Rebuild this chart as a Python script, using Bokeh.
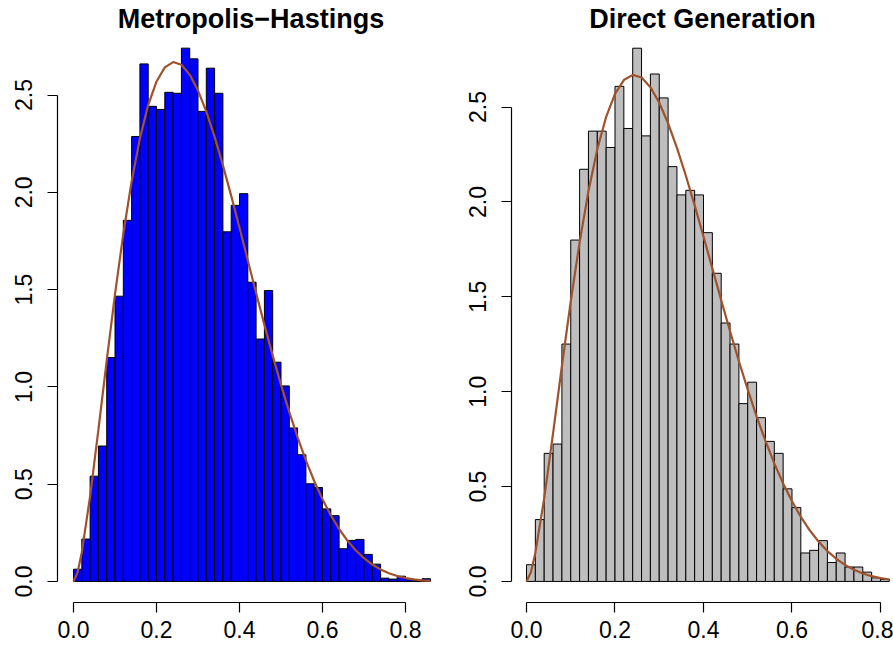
from bokeh.plotting import figure
from bokeh.layouts import row
from bokeh.models import ColumnDataSource, FixedTicker, PrintfTickFormatter
from bokeh.embed import file_html
from bokeh.resources import INLINE

# ---------------- data ----------------
bin_width = 0.02

mh_bin_left = [0.00, 0.02, 0.04, 0.06, 0.08, 0.10, 0.12, 0.14, 0.16, 0.18,
               0.20, 0.22, 0.24, 0.26, 0.28, 0.30, 0.32, 0.34, 0.36, 0.38,
               0.40, 0.42, 0.44, 0.46, 0.48, 0.50, 0.52, 0.54, 0.56, 0.58,
               0.60, 0.62, 0.64, 0.66, 0.68, 0.70, 0.72, 0.74, 0.76, 0.78,
               0.80, 0.82, 0.84]
mh_density = [0.063, 0.218, 0.541, 0.696, 1.151, 1.466, 1.856, 2.287, 2.660, 2.442,
              2.426, 2.514, 2.509, 2.741, 2.686, 2.416, 2.638, 2.509, 1.797, 1.933,
              1.993, 1.538, 1.246, 1.495, 1.127, 1.005, 0.789, 0.651, 0.502, 0.483,
              0.373, 0.338, 0.168, 0.211, 0.216, 0.139, 0.089, 0.017, 0.012, 0.027,
              0.009, 0.005, 0.014]

direct_bin_left = [0.00, 0.02, 0.04, 0.06, 0.08, 0.10, 0.12, 0.14, 0.16, 0.18,
                   0.20, 0.22, 0.24, 0.26, 0.28, 0.30, 0.32, 0.34, 0.36, 0.38,
                   0.40, 0.42, 0.44, 0.46, 0.48, 0.50, 0.52, 0.54, 0.56, 0.58,
                   0.60, 0.62, 0.64, 0.66, 0.68, 0.70, 0.72, 0.74, 0.76, 0.78,
                   0.80]
direct_density = [0.088, 0.326, 0.675, 0.724, 1.251, 1.799, 2.172, 2.373, 2.373, 2.287,
                  2.609, 2.387, 2.810, 2.348, 2.674, 2.548, 2.186, 2.037, 2.061, 2.037,
                  1.838, 1.624, 1.362, 1.251, 0.937, 1.050, 0.863, 0.738, 0.675, 0.488,
                  0.389, 0.150, 0.164, 0.215, 0.100, 0.150, 0.076, 0.076, 0.049, 0.019,
                  0.011]

# target density curve (Beta(2.7, 6.3)) values
curve_x = [0.00, 0.01, 0.02, 0.04, 0.06, 0.08, 0.10, 0.12, 0.14, 0.16, 0.18,
           0.20, 0.22, 0.24, 0.26, 0.28, 0.30, 0.32, 0.34, 0.36, 0.38,
           0.40, 0.42, 0.44, 0.46, 0.48, 0.50, 0.52, 0.54, 0.56, 0.58,
           0.60, 0.62, 0.64, 0.66, 0.68, 0.70, 0.72, 0.74, 0.76, 0.78,
           0.80, 0.82, 0.84, 0.86]
curve_y = [0.0, 0.0488, 0.1503, 0.4378, 0.7802, 1.1353, 1.4766, 1.7870, 2.0559, 2.2774, 2.4487,
           2.5697, 2.6423, 2.6695, 2.6555, 2.6049, 2.5228, 2.4144, 2.2848, 2.1391, 1.9819,
           1.8175, 1.6499, 1.4826, 1.3187, 1.1606, 1.0105, 0.8700, 0.7404, 0.6223, 0.5162,
           0.4222, 0.3401, 0.2696, 0.2098, 0.1601, 0.1194, 0.0869, 0.0615, 0.0421, 0.0277,
           0.0175, 0.0104, 0.0058, 0.0030]

x_ticks = [0.0, 0.2, 0.4, 0.6, 0.8]
y_ticks = [0.0, 0.5, 1.0, 1.5, 2.0, 2.5]

FONT = "Liberation Sans"


def make_panel(title, bin_left, density, fill, width, mb_left, mb_right, xr, yr):
    p = figure(width=width, height=651, x_range=xr, y_range=yr,
               output_backend="svg", toolbar_location=None,
               min_border_left=mb_left, min_border_right=mb_right,
               min_border_top=0, min_border_bottom=49)
    p.title.text = title
    p.title.text_font = FONT
    p.title.text_font_size = "27px"
    p.title.text_font_style = "bold"
    p.title.align = "center"
    p.title.standoff = 3
    p.title.text_color = "black"

    p.grid.visible = False
    p.outline_line_color = None
    p.background_fill_color = "white"
    p.border_fill_color = "white"

    right_edges = [l + bin_width for l in bin_left]
    src = ColumnDataSource(dict(left=bin_left, right=right_edges, top=density,
                                bottom=[0.0] * len(density)))
    p.quad(left="left", right="right", top="top", bottom="bottom", source=src,
           fill_color=fill, line_color="black", line_width=1)

    xmax = right_edges[-1] + 1e-9
    cx = [x for x in curve_x if x <= xmax]
    cy = curve_y[:len(cx)]
    p.line(cx, cy, line_color="#A0522D", line_width=2.2)

    for ax, ticks, bounds in ((p.xaxis[0], x_ticks, (0, 0.8)), (p.yaxis[0], y_ticks, (0, 2.5))):
        ax.ticker = FixedTicker(ticks=ticks)
        ax.formatter = PrintfTickFormatter(format="%.1f")
        ax.bounds = bounds
        ax.minor_tick_line_color = None
        ax.major_tick_out = 10
        ax.major_tick_in = 0
        ax.axis_line_color = "black"
        ax.major_tick_line_color = "black"
        ax.axis_line_width = 1.2
        ax.major_tick_line_width = 1.2
        ax.major_label_text_font = FONT
        ax.major_label_text_font_size = "23px"
        ax.major_label_text_color = "black"
    p.xaxis[0].major_label_standoff = 8
    p.yaxis[0].major_label_standoff = 15
    p.yaxis[0].major_label_orientation = "vertical"
    return p


p1 = make_panel("Metropolis\u2212Hastings", mh_bin_left, mh_density, "#0000FF",
                446, 57, 2, (-0.0386, 0.894), (-0.1082, 2.806))
p2 = make_panel("Direct Generation", direct_bin_left, direct_density, "#BEBEBE",
                447, 65, 0, (-0.0339, 0.8294), (-0.111, 2.877))

layout = row(p1, p2)
open("out.html", "w").write(file_html(layout, INLINE))
